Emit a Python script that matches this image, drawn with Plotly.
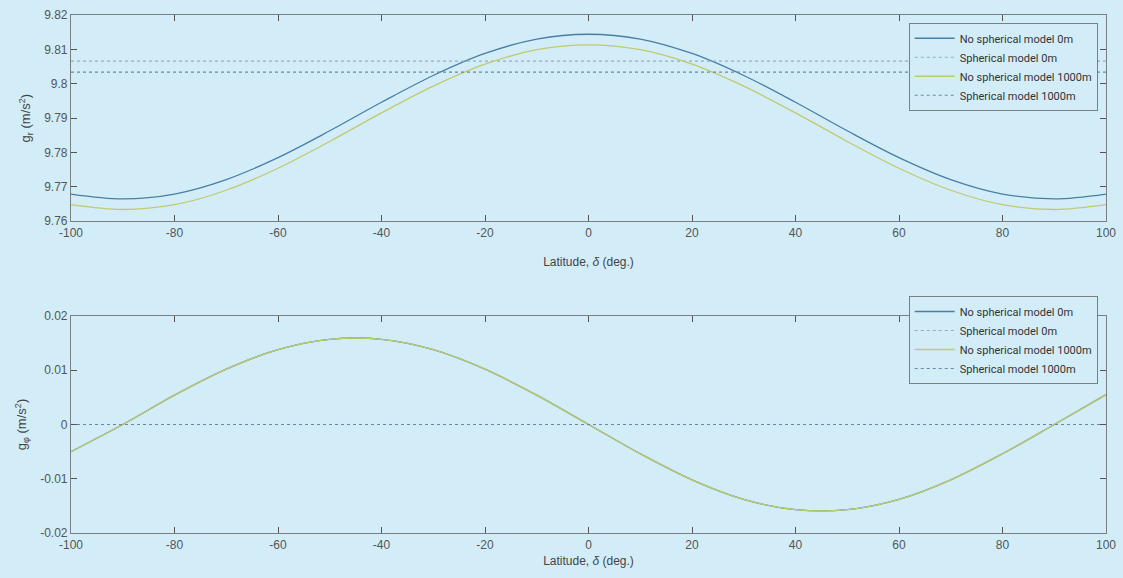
import plotly.graph_objects as go
from plotly.subplots import make_subplots

# Latitude samples (deg)
lat = [-100, -90, -80, -70, -60, -50, -40, -30, -20, -10, 0,
       10, 20, 30, 40, 50, 60, 70, 80, 90, 100]

# g_r, no spherical model (m/s^2)
gr_nosph_0m = [9.7679, 9.7665, 9.7679, 9.7721, 9.7785, 9.7863, 9.7946, 9.8024, 9.8088, 9.8130, 9.8144,
               9.8130, 9.8088, 9.8024, 9.7946, 9.7863, 9.7785, 9.7721, 9.7679, 9.7665, 9.7679]
gr_nosph_1000m = [9.7648, 9.7634, 9.7648, 9.7690, 9.7754, 9.7832, 9.7915, 9.7993, 9.8057, 9.8099, 9.8113,
                  9.8099, 9.8057, 9.7993, 9.7915, 9.7832, 9.7754, 9.7690, 9.7648, 9.7634, 9.7648]
# g_r, spherical model (constant)
gr_sph_0m = [9.8066] * len(lat)
gr_sph_1000m = [9.8034] * len(lat)

# g_phi (m/s^2)
gphi_nosph_0m = [-0.0050, 0.0000, 0.0054, 0.0102, 0.0138, 0.0157, 0.0157, 0.0138, 0.0102, 0.0054, 0.0000,
                 -0.0054, -0.0102, -0.0138, -0.0157, -0.0157, -0.0138, -0.0102, -0.0054, 0.0000, 0.0055]
gphi_nosph_1000m = list(gphi_nosph_0m)
gphi_sph_0m = [0.0] * len(lat)
gphi_sph_1000m = [0.0] * len(lat)

# Tick labels
x_ticks = [-100, -80, -60, -40, -20, 0, 20, 40, 60, 80, 100]
x_ticklabels = ["-100", "-80", "-60", "-40", "-20", "0", "20", "40", "60", "80", "100"]
gr_ticks = [9.76, 9.77, 9.78, 9.79, 9.80, 9.81, 9.82]
gr_ticklabels = ["9.76", "9.77", "9.78", "9.79", "9.8", "9.81", "9.82"]
gphi_ticks = [-0.02, -0.01, 0, 0.01, 0.02]
gphi_ticklabels = ["-0.02", "-0.01", "0", "0.01", "0.02"]

names = ["No spherical model 0m", "Spherical model 0m",
         "No spherical model 1000m", "Spherical model 1000m"]

BG = "#d3edf8"
BLUE = "#477fa3"
GREEN = "#bfca6e"
DOT0 = "#93adc4"
DOT1 = "#6a86a6"

fig = make_subplots(rows=2, cols=1, vertical_spacing=0.0)

def add_set(row, a, b, c, d, legend):
    fig.add_trace(go.Scatter(x=lat, y=a, name=names[0], mode="lines", line_shape="spline",
                             line=dict(color=BLUE, width=1.3), legend=legend), row=row, col=1)
    fig.add_trace(go.Scatter(x=lat, y=b, name=names[1], mode="lines",
                             line=dict(color=DOT0, width=1.2, dash="dot"), legend=legend), row=row, col=1)
    fig.add_trace(go.Scatter(x=lat, y=c, name=names[2], mode="lines", line_shape="spline",
                             line=dict(color=GREEN, width=1.3), legend=legend), row=row, col=1)
    fig.add_trace(go.Scatter(x=lat, y=d, name=names[3], mode="lines",
                             line=dict(color=DOT1, width=1.2, dash="dot"), legend=legend), row=row, col=1)

add_set(1, gr_nosph_0m, gr_sph_0m, gr_nosph_1000m, gr_sph_1000m, "legend")
add_set(2, gphi_nosph_0m, gphi_sph_0m, gphi_nosph_1000m, gphi_sph_1000m, "legend2")

FONT = "Liberation Sans, Arial"
axis_common = dict(showgrid=False, zeroline=False, showline=True, linecolor="#7a7f84", linewidth=1.2,
                   mirror="ticks", ticks="inside", ticklen=6, tickcolor="#555", automargin=False,
                   tickfont=dict(family=FONT, size=12, color="#555"))

def xtitle(standoff):
    return dict(text="Latitude, <i>δ</i> (deg.)", font=dict(family=FONT, size=12, color="#444"),
                standoff=standoff)

fig.update_xaxes(range=[-100, 100], tickvals=x_ticks, ticktext=x_ticklabels, **axis_common)
fig.update_xaxes(title=xtitle(18), row=1, col=1)
fig.update_xaxes(title=xtitle(6), row=2, col=1)
fig.update_yaxes(**axis_common)
fig.update_yaxes(range=[9.76, 9.82], tickvals=gr_ticks, ticktext=gr_ticklabels,
                 title=dict(text="g<sub>r</sub> (m/s<sup>2</sup>)", font=dict(family=FONT, size=13, color="#444"), standoff=10),
                 row=1, col=1)
fig.update_yaxes(range=[-0.02, 0.02], tickvals=gphi_ticks, ticktext=gphi_ticklabels,
                 title=dict(text="g<sub>φ</sub> (m/s<sup>2</sup>)", font=dict(family=FONT, size=13, color="#444"), standoff=10),
                 row=2, col=1)

fig.update_layout(
    yaxis=dict(domain=[0.602, 1.0]),
    yaxis2=dict(domain=[0.0, 0.419]),
)

legend_common = dict(xanchor="right", yanchor="top", bgcolor=BG, bordercolor="#7a7f84", borderwidth=1,
                     font=dict(family="Roboto", size=11, color="#333"), tracegroupgap=0,
                     itemwidth=40)

fig.update_layout(
    width=1123, height=578,
    paper_bgcolor=BG, plot_bgcolor=BG,
    margin=dict(l=71, r=17, t=15, b=45),
    showlegend=True,
    legend=dict(x=0.992, y=0.985, **legend_common),
    legend2=dict(x=0.992, y=0.4575, **legend_common),
)

fig.write_html("out.html")
